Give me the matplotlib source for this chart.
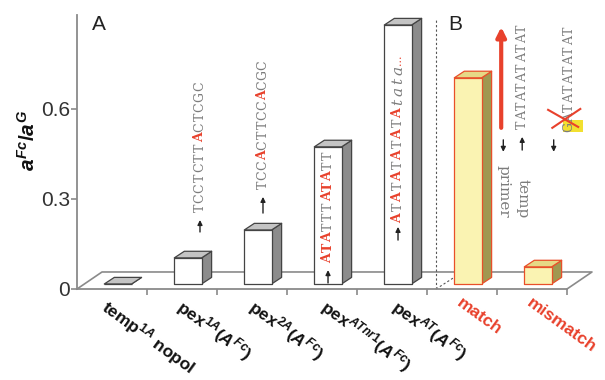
import matplotlib
matplotlib.use("Agg")
import matplotlib.pyplot as plt
from matplotlib.patches import Polygon, Rectangle

plt.rcParams['font.family'] = ['Liberation Sans', 'DejaVu Sans']
plt.rcParams['mathtext.fontset'] = 'custom'
plt.rcParams['mathtext.rm'] = 'Liberation Sans:bold'
plt.rcParams['mathtext.it'] = 'Liberation Sans:italic:bold'
plt.rcParams['mathtext.bf'] = 'Liberation Sans:bold'

# data
categories = [r"temp$^{1A}$ nopol", r"pex$^{1A}$($A^{Fc}$)", r"pex$^{2A}$($A^{Fc}$)",
              r"pex$^{ATnr1}$($A^{Fc}$)", r"pex$^{AT}$($A^{Fc}$)", "match", "mismatch"]
values = [0.0, 0.087, 0.18, 0.457, 0.863, 0.687, 0.057]
panel_b = [False, False, False, False, False, True, True]
yticks = [0, 0.3, 0.6]
yticklabels = ["0", "0.3", "0.6"]

RED = '#e8412c'
GRAY_TXT = '#7c7c7c'
SEQ_FONT = 'DejaVu Serif'

fig = plt.figure(figsize=(6.05, 3.8), dpi=100)
ax = fig.add_axes([77/605, 91/380, 490/605, 274/380])
ax.set_xlim(0, 7)
ax.set_ylim(0, 0.913)
for s in ['top', 'right']:
    ax.spines[s].set_visible(False)
for s in ['left', 'bottom']:
    ax.spines[s].set_color('#8a8a8a')
    ax.spines[s].set_linewidth(1.3)
ax.set_yticks(yticks)
ax.set_yticklabels(yticklabels, fontsize=15, color='#333333')
ax.set_xticks(range(1, 8))
ax.set_xticklabels([])
ax.tick_params(direction='out', length=4, color='#8a8a8a', width=1.2)
ax.tick_params(axis='y', pad=1)

# floor
fdx, fdy = 0.357, 0.0567
ax.plot([0, fdx, 7 + fdx, 7], [0, fdy, fdy, 0], color='#8a8a8a', lw=1.2,
        clip_on=False, zorder=1)

# bars
bw, bdx, bdy, base = 0.39, 0.143, 0.022, 0.0167
for i, v in enumerate(values):
    x0 = i + 0.39
    if panel_b[i]:
        fc, tc, sc, ec = '#faf3b2', '#e6d886', '#a09850', '#e8502a'
    else:
        fc, tc, sc, ec = 'white', '#c4c4c4', '#8c8c8c', '#444444'
    top = base + v
    front = [(x0, base), (x0 + bw, base), (x0 + bw, top), (x0, top)]
    topf = [(x0, top), (x0 + bw, top), (x0 + bw + bdx, top + bdy), (x0 + bdx, top + bdy)]
    side = [(x0 + bw, base), (x0 + bw + bdx, base + bdy), (x0 + bw + bdx, top + bdy), (x0 + bw, top)]
    for pts, c in [(side, sc), (topf, tc), (front, fc)]:
        ax.add_patch(Polygon(pts, closed=True, fc=c, ec=ec, lw=0.9, zorder=3,
                             joinstyle='round', clip_on=False))

# divider between panels
ax.plot([5.13, 5.13], [0, 0.9], ls=(0, (2, 2)), color='#555555', lw=0.8, clip_on=False, zorder=2)
ax.plot([5.13, 5.13 + 0.3], [0, 0.045], ls=(0, (2, 2)), color='#555555', lw=0.8, zorder=2)

# x labels
label_x = [0.48, 1.55, 2.58, 3.6, 4.62, 5.52, 6.52]
for i, lab in enumerate(categories):
    ax.text(label_x[i], -0.022, lab, rotation=-36, rotation_mode='anchor',
            ha='left', va='top', fontsize=12.5, fontweight='bold',
            color=RED if panel_b[i] else '#111111', clip_on=False)

fig.text(28/605, 1 - 140/380, r"$a^{Fc}/a^{G}$", rotation=90, ha='center', va='center',
         fontsize=15, color='#111111')
ax.text(0.21, 0.88, "A", fontsize=15, va='center', ha='left', color='#222222')
ax.text(5.3, 0.88, "B", fontsize=15, va='center', ha='left', color='#222222')

PITCH = 0.034


def up_arrow(x, y0, y1, color='#222222', lw=1.0, ms=7):
    ax.annotate('', xy=(x, y1), xytext=(x, y0),
                arrowprops=dict(arrowstyle='-|>', color=color, lw=lw,
                                mutation_scale=ms, shrinkA=0, shrinkB=0), zorder=5)


def seq(x, y0, parts, pitch=PITCH, size=9):
    k = 0
    for txt, kind in parts:
        chars = [txt] if kind == 'd' else list(txt)
        for ch in chars:
            kw = dict(family=SEQ_FONT, color=GRAY_TXT, fontsize=size)
            if kind == 'r':
                kw.update(color=RED, fontweight='bold')
            elif kind == 'i':
                kw.update(style='italic', fontsize=size + 2)
            elif kind == 'd':
                kw.update(color=RED, fontsize=size - 1)
            ax.text(x, y0 + (k + 0.5) * pitch, ch, rotation=90, ha='center', va='center',
                    zorder=6, **kw)
            k += 1


# panel A sequences
up_arrow(1.757, 0.19, 0.23)
seq(1.757, 0.253, [("TCCTCTT", 'g'), ("A", 'r'), ("CTCGC", 'g')], pitch=0.0337)
up_arrow(2.657, 0.253, 0.307)
seq(2.657, 0.33, [("TCC", 'g'), ("A", 'r'), ("CTTCC", 'g'), ("A", 'r'), ("CGC", 'g')], pitch=0.0333)
up_arrow(3.586, 0.02, 0.063)
seq(3.586, 0.087, [("ATA", 'r'), ("TTT", 'g'), ("ATA", 'r'), ("TT", 'g')])
up_arrow(4.586, 0.163, 0.207)
seq(4.586, 0.22, [("A", 'r'), ("T", 'g'), ("A", 'r'), ("T", 'g'), ("A", 'r'), ("T", 'g'),
                  ("A", 'r'), ("T", 'g'), ("A", 'r'), ("T", 'g'), ("A", 'r'),
                  ("tata", 'i'), ("...", 'd')], pitch=0.035)

# panel B: primer / template
up_arrow(6.06, 0.537, 0.873, color=RED, lw=3, ms=14)
up_arrow(6.09, 0.497, 0.457)
ax.text(6.09, 0.237, "primer", rotation=-90, rotation_mode='anchor', ha='right', va='center',
        family=SEQ_FONT, fontsize=11, color=GRAY_TXT)
up_arrow(6.36, 0.463, 0.507)
ax.text(6.36, 0.237, "temp", rotation=-90, rotation_mode='anchor', ha='right', va='center',
        family=SEQ_FONT, fontsize=11, color=GRAY_TXT)
seq(6.36, 0.53, [("TATATATATAT", 'g')], pitch=0.032)

up_arrow(6.81, 0.497, 0.457)
up_arrow(7.03, 0.463, 0.507)
ax.add_patch(Rectangle((6.94, 0.523), 0.285, 0.04, fc='#f2e030', ec='none', zorder=4, clip_on=False))
seq(7.03, 0.523, [("GATATATATAT", 'g')], pitch=0.032)
ax.plot([6.73, 7.16], [0.597, 0.54], color=RED, lw=1.5, zorder=7, clip_on=False)
ax.plot([6.79, 7.19], [0.537, 0.6], color=RED, lw=1.5, zorder=7, clip_on=False)

fig.savefig("out.png", dpi=100)
